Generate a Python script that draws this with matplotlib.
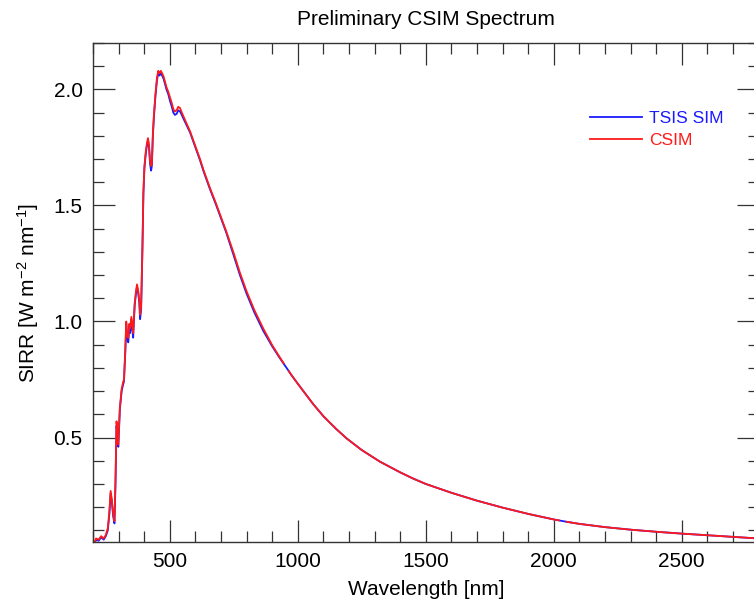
import numpy as np
import matplotlib
matplotlib.use('Agg')
import matplotlib.pyplot as plt
from matplotlib.ticker import MultipleLocator

plt.rcParams['font.family'] = ['Liberation Sans', 'DejaVu Sans']
plt.rcParams['mathtext.default'] = 'regular'

# ── spectrum values ──────────────────────────────
wavelength = [
    202, 212, 222, 232, 242, 250, 258, 264, 269, 274,
    279, 284, 288, 292, 296, 299, 305, 312, 318, 321,
    326, 330, 334, 338, 342, 345, 350, 354, 357, 363,
    368, 372, 377, 381, 384, 388, 393, 397, 401, 406,
    411, 415, 419, 423, 427, 430, 434, 438, 444, 450,
    455, 460, 465, 470, 476, 481, 487, 494, 501, 508,
    514, 520, 527, 533, 540, 547, 553, 566, 579, 592,
    605, 618, 631, 644, 657, 680, 700, 720, 748, 774,
    800, 830, 865, 900, 930, 945, 955, 965, 976, 1000,
    1030, 1061, 1100, 1150, 1191, 1250, 1321, 1400, 1451, 1500,
    1600, 1700, 1800, 1900, 2000, 2020, 2035, 2050, 2100, 2200,
    2300, 2400, 2500, 2600, 2700, 2800,
]
tsis_sim = [
    0.03, 0.06, 0.055, 0.07, 0.06, 0.075, 0.10, 0.17, 0.26, 0.22,
    0.16, 0.13, 0.30, 0.55, 0.50, 0.46, 0.62, 0.70, 0.73, 0.74,
    0.86, 0.99, 0.92, 0.91, 0.98, 0.95, 1.01, 0.96, 0.93, 1.07,
    1.12, 1.15, 1.12, 1.08, 1.01, 1.05, 1.30, 1.55, 1.66, 1.72,
    1.76, 1.78, 1.75, 1.68, 1.65, 1.67, 1.80, 1.88, 1.97, 2.04,
    2.07, 2.06, 2.07, 2.06, 2.045, 2.025, 2.0, 1.98, 1.95, 1.925,
    1.90, 1.89, 1.895, 1.91, 1.905, 1.89, 1.875, 1.845, 1.815, 1.775,
    1.735, 1.695, 1.65, 1.61, 1.57, 1.505, 1.445, 1.385, 1.29, 1.20,
    1.12, 1.04, 0.96, 0.893, 0.842, 0.818, 0.802, 0.786, 0.768, 0.732,
    0.688, 0.643, 0.592, 0.537, 0.496, 0.446, 0.396, 0.350, 0.323, 0.300,
    0.262, 0.228, 0.198, 0.171, 0.147, 0.143, 0.140, 0.137, 0.128, 0.114,
    0.103, 0.094, 0.086, 0.079, 0.072, 0.065,
]
csim = [
    0.035, 0.065, 0.06, 0.075, 0.065, 0.08, 0.11, 0.18, 0.27, 0.23,
    0.17, 0.14, 0.32, 0.57, 0.52, 0.47, 0.63, 0.71, 0.74, 0.75,
    0.87, 1.00, 0.94, 0.93, 0.99, 0.97, 1.02, 0.98, 0.95, 1.08,
    1.13, 1.16, 1.13, 1.09, 1.03, 1.06, 1.31, 1.56, 1.67, 1.73,
    1.77, 1.79, 1.76, 1.69, 1.67, 1.68, 1.81, 1.89, 1.98, 2.05,
    2.08, 2.07, 2.08, 2.07, 2.055, 2.035, 2.01, 1.99, 1.965, 1.94,
    1.915, 1.905, 1.91, 1.925, 1.92, 1.90, 1.885, 1.852, 1.82, 1.78,
    1.74, 1.70, 1.655, 1.615, 1.575, 1.51, 1.45, 1.39, 1.30, 1.21,
    1.13, 1.05, 0.97, 0.898, 0.845, 0.820, np.nan, 0.786, 0.768, 0.732,
    0.688, 0.643, 0.592, 0.537, 0.496, 0.446, 0.396, 0.350, 0.323, 0.300,
    0.262, 0.228, 0.198, 0.171, 0.147, 0.143, np.nan, 0.137, 0.128, 0.114,
    0.103, 0.094, 0.086, 0.079, 0.072, 0.065,
]

fig = plt.figure(figsize=(7.54, 6.03), dpi=100)
ax = fig.add_axes([0.1233, 0.1012, 0.8828, 0.8275])

ax.plot(wavelength, tsis_sim, color='#1a1aff', lw=1.3, label='TSIS SIM')
ax.plot(wavelength, csim, color='#ff1a1a', lw=1.3, label='CSIM')

ax.set_xlim(200, 2800)
ax.set_ylim(0.05, 2.2)
ax.xaxis.set_major_locator(MultipleLocator(500))
ax.xaxis.set_minor_locator(MultipleLocator(100))
ax.yaxis.set_major_locator(MultipleLocator(0.5))
ax.yaxis.set_minor_locator(MultipleLocator(0.1))
ax.yaxis.set_major_formatter(plt.FormatStrFormatter('%.1f'))

ax.tick_params(which='both', direction='in', top=True, right=True,
               color='#333333', width=0.9, labelsize=15, pad=7.5)
ax.tick_params(which='major', length=16)
ax.tick_params(which='minor', length=8)
for sp in ax.spines.values():
    sp.set_color('#333333')
    sp.set_linewidth(1.0)

ax.set_xlabel('Wavelength [nm]', fontsize=15, labelpad=6)
ax.set_ylabel('SIRR [W m$^{-2}$ nm$^{-1}$]', fontsize=15, labelpad=9)
ax.set_title('Preliminary CSIM Spectrum', fontsize=15, pad=13)

ax.legend(loc='upper left', bbox_to_anchor=(590 / 754, 1 - 111 / 603),
          bbox_transform=fig.transFigure, frameon=False, fontsize=12.5,
          handlelength=3.0, handletextpad=0.4, labelspacing=0.4,
          borderpad=0, borderaxespad=0, labelcolor='linecolor')

fig.savefig('out.png', dpi=100)
